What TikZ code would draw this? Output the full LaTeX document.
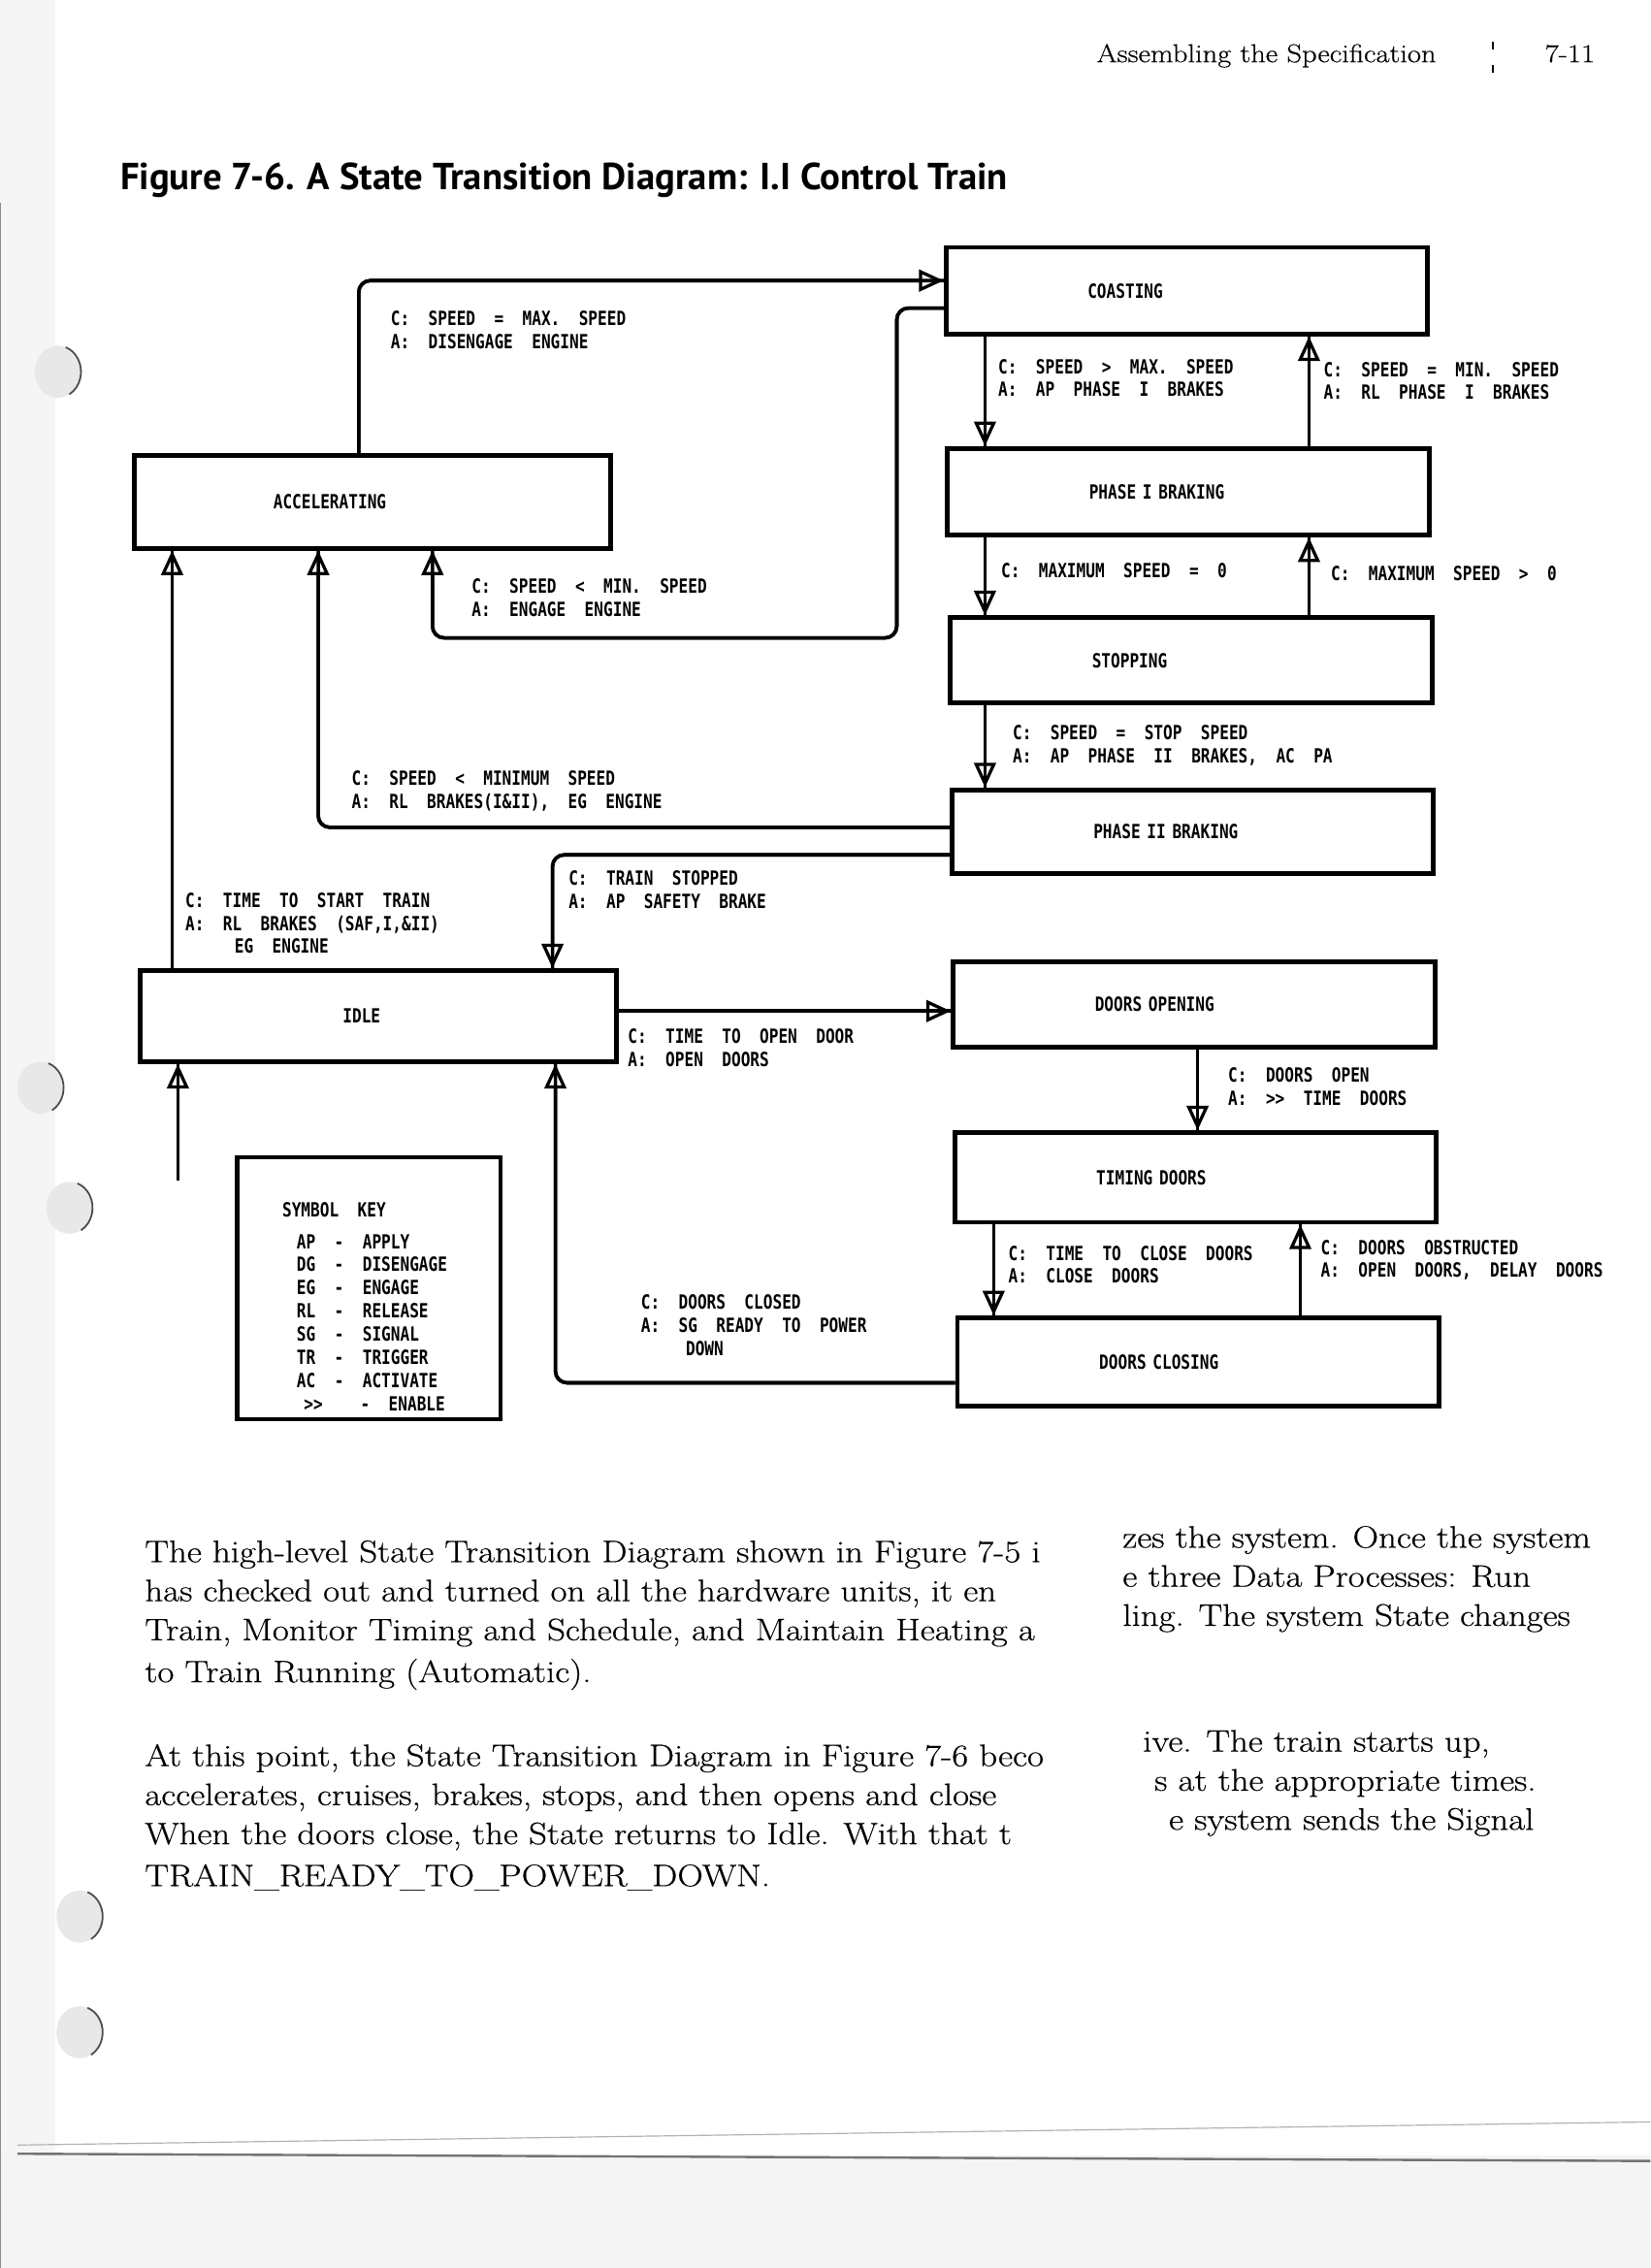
\documentclass[tikz,border=0pt]{standalone}
\usepackage{fontspec}
\usepackage{tikz}
\usetikzlibrary{arrows.meta}
\newfontfamily\plotfont[FakeStretch=0.8,WordSpace=2]{DejaVu Sans Mono}
\newfontfamily\titlefont{PT Sans}
\newfontfamily\bodyfont[FakeStretch=1.15,FakeBold=0.5]{Latin Modern Roman}
\newcommand{\plotsize}{\fontsize{13.5pt}{16pt}\selectfont}

\tikzset{
  state/.style={draw, line width=3.2pt, minimum height=60pt, inner xsep=98pt, text width=137pt, align=left, font=\plotfont\bfseries\plotsize},
  keybox/.style={draw, line width=3pt, minimum width=182pt, minimum height=181pt},
  trans/.style={line width=2.4pt, rounded corners=8pt, postaction={draw, -{Triangle[open, length=17pt, width=15pt, line width=2.2pt]}}},
  lbl/.style={font=\plotfont\bfseries\plotsize, align=left, inner sep=0pt, anchor=north west},
  body/.style={font=\bodyfont\fontsize{21.5pt}{26pt}\selectfont, inner sep=0pt, anchor=base west},
}

\begin{document}
\begin{tikzpicture}[x=1pt,y=1pt,yscale=-1,xscale=1]
\useasboundingbox (0,0) rectangle (1141,1568);

%Shape: page edges and punched holes
\fill[gray!8] (0,0) rectangle (38,1490);
\fill[gray!9] (0,1490) rectangle (1141,1568);
\draw[line width=1pt, black!45] (0.5,140) -- (0.5,1568);
\draw[gray!60, line width=0.8pt] (12,1483) -- (1141,1467);
\draw[black!55, line width=1.6pt] (12,1489) -- (1141,1494);
\foreach \hx/\hy in {40/257, 28/752, 48/835, 55/1325, 55/1405}{
  \fill[gray!18] (\hx,\hy) ellipse (16pt and 18pt);
  \draw[black!70, line width=1.2pt] (\hx,\hy) ++(60:16pt and 18pt) arc (60:-70:16pt and 18pt);
}

% Text Node
\node[anchor=base west, inner sep=0pt, font=\bodyfont\fontsize{17.8pt}{20pt}\selectfont] (head) at (758,43) {Assembling the Specification};
% Text Node
\node[anchor=base west, inner sep=0pt, font=\bodyfont\fontsize{17.8pt}{20pt}\selectfont] (pageno) at (1068,43) {7-11};
\draw[line width=1.2pt] (1032,29) -- (1032,34) (1032,45) -- (1032,50);
% Text Node
\node[anchor=base west, inner sep=0pt, font=\titlefont\bfseries\fontsize{26pt}{30pt}\selectfont] (title) at (83,131) {Figure 7-6. A State Transition Diagram: I.I Control Train};

%Shape: Rectangle (states)
\node[state] (coast) at (820.5,201) {COASTING};
\node[state] (ph1) at (821.5,340) {PHASE I BRAKING};
\node[state, minimum height=59pt] (stop) at (823.5,456.5) {STOPPING};
\node[state, minimum height=58pt] (ph2) at (824.5,575) {PHASE II BRAKING};
\node[state, minimum height=59pt] (dopen) at (825.5,694.5) {DOORS OPENING};
\node[state, minimum height=62pt] (timing) at (826.5,814) {TIMING DOORS};
\node[state, minimum height=61pt] (dclose) at (828.5,941.5) {DOORS CLOSING};
\node[state, minimum height=64pt, inner xsep=96pt] (acc) at (257.5,347) {ACCELERATING};
\node[state, minimum height=63pt, inner xsep=140pt, text width=49pt] (idle) at (261.5,702.5) {IDLE};
%Shape: Rectangle (key)
\node[keybox] (key) at (255,890.5) {};

% columns and rows of the connectors
\coordinate (dnA) at (681,0);
\coordinate (upA) at (905,0);
\coordinate (dnB) at (687,0);
\coordinate (upB) at (899,0);
\coordinate (midB) at (828,0);
\coordinate (accA) at (119,0);
\coordinate (accB) at (220,0);
\coordinate (accC) at (248,0);
\coordinate (accD) at (299,0);
\coordinate (idleA) at (382,0);
\coordinate (idleB) at (384,0);
\coordinate (rowA) at (0,194);
\coordinate (rowB) at (0,213);
\coordinate (rowC) at (0,572);
\coordinate (rowD) at (0,591);
\coordinate (rowE) at (0,699);
\coordinate (rowF) at (0,956);
\coordinate (bendB) at (620,441);
\coordinate (start) at (123,816);

%Straight Lines
\draw[trans] (coast.south -| dnA) -- (ph1.north -| dnA);
\draw[trans] (ph1.north -| upA) -- (coast.south -| upA);
\draw[trans] (ph1.south -| dnA) -- (stop.north -| dnA);
\draw[trans] (stop.north -| upA) -- (ph1.south -| upA);
\draw[trans] (stop.south -| dnA) -- (ph2.north -| dnA);
\draw[trans] (dopen.south -| midB) -- (timing.north -| midB);
\draw[trans] (timing.south -| dnB) -- (dclose.north -| dnB);
\draw[trans] (dclose.north -| upB) -- (timing.south -| upB);
\draw[trans] (idle.east |- rowE) -- (dopen.west |- rowE);
\draw[trans] (acc.north -| accC) |- (coast.west |- rowA);
\draw[trans] (coast.west |- rowB) -| (bendB) -| (acc.south -| accD);
\draw[trans] (ph2.west |- rowC) -| (acc.south -| accB);
\draw[trans] (ph2.west |- rowD) -| (idle.north -| idleA);
\draw[trans] (idle.north -| accA) -- (acc.south -| accA);
\draw[trans] (dclose.west |- rowF) -| (idle.south -| idleB);
\draw[trans] (start) -- (idle.south -| start);

% Text Node
\node[lbl] (lAccCoast) at (270,215) {C: SPEED = MAX. SPEED\\A: DISENGAGE ENGINE};
% Text Node
\node[lbl] (lCoastPh1) at (690,248) {C: SPEED > MAX. SPEED\\A: AP PHASE I BRAKES};
% Text Node
\node[lbl] (lPh1Coast) at (915,250) {C: SPEED = MIN. SPEED\\A: RL PHASE I BRAKES};
% Text Node
\node[lbl] (lPh1Stop) at (692,389) {C: MAXIMUM SPEED = 0};
% Text Node
\node[lbl] (lStopPh1) at (920,391) {C: MAXIMUM SPEED > 0};
% Text Node
\node[lbl] (lCoastAcc) at (326,400) {C: SPEED < MIN. SPEED\\A: ENGAGE ENGINE};
% Text Node
\node[lbl] (lStopPh2) at (700,501) {C: SPEED = STOP SPEED\\A: AP PHASE II BRAKES, AC PA};
% Text Node
\node[lbl] (lPh2Acc) at (243,533) {C: SPEED < MINIMUM SPEED\\A: RL BRAKES(I\&II), EG ENGINE};
% Text Node
\node[lbl] (lPh2Idle) at (393,602) {C: TRAIN STOPPED\\A: AP SAFETY BRAKE};
% Text Node
\node[lbl] (lIdleAcc) at (128,617) {C: TIME TO START TRAIN\\A: RL BRAKES (SAF,I,\&II)\\\hspace*{34pt}EG ENGINE};
% Text Node
\node[lbl] (lIdleOpen) at (434,711) {C: TIME TO OPEN DOOR\\A: OPEN DOORS};
% Text Node
\node[lbl] (lOpenTime) at (849,738) {C: DOORS OPEN\\A: >> TIME DOORS};
% Text Node
\node[lbl] (lTimeClose) at (697,861) {C: TIME TO CLOSE DOORS\\A: CLOSE DOORS};
% Text Node
\node[lbl] (lCloseTime) at (913,857) {C: DOORS OBSTRUCTED\\A: OPEN DOORS, DELAY DOORS};
% Text Node
\node[lbl] (lCloseIdle) at (443,895) {C: DOORS CLOSED\\A: SG READY TO POWER\\\hspace*{31pt}DOWN};
% Text Node
\node[lbl] (keyText) at (195,831) {SYMBOL KEY\\[6pt]
  \hspace*{10pt}AP - APPLY\\
  \hspace*{10pt}DG - DISENGAGE\\
  \hspace*{10pt}EG - ENGAGE\\
  \hspace*{10pt}RL - RELEASE\\
  \hspace*{10pt}SG - SIGNAL\\
  \hspace*{10pt}TR - TRIGGER\\
  \hspace*{10pt}AC - ACTIVATE\\
  \hspace*{15pt}>>\ \ - ENABLE};

% Text Node (body)
\node[body] (p1a) at (100,1080) {The high-level State Transition Diagram shown in Figure 7-5 i};
\node[body] (p1b) at (776,1070) {zes the system. Once the system};
\node[body] (p2a) at (100,1107) {has checked out and turned on all the hardware units, it en};
\node[body] (p2b) at (776,1097) {e three Data Processes: Run};
\node[body] (p3a) at (100,1134) {Train, Monitor Timing and Schedule, and Maintain Heating a};
\node[body] (p3b) at (776,1124) {ling. The system State changes};
\node[body] (p4a) at (100,1163) {to Train Running (Automatic).};
\node[body] (q1a) at (100,1221) {At this point, the State Transition Diagram in Figure 7-6 beco};
\node[body] (q1b) at (790,1211) {ive. The train starts up,};
\node[body] (q2a) at (100,1248) {accelerates, cruises, brakes, stops, and then opens and close};
\node[body] (q2b) at (798,1238) {s at the appropriate times.};
\node[body] (q3a) at (100,1275) {When the doors close, the State returns to Idle. With that t};
\node[body] (q3b) at (808,1265) {e system sends the Signal};
\node[body] (q4a) at (100,1304) {TRAIN\_READY\_TO\_POWER\_DOWN.};
\end{tikzpicture}
\end{document}
